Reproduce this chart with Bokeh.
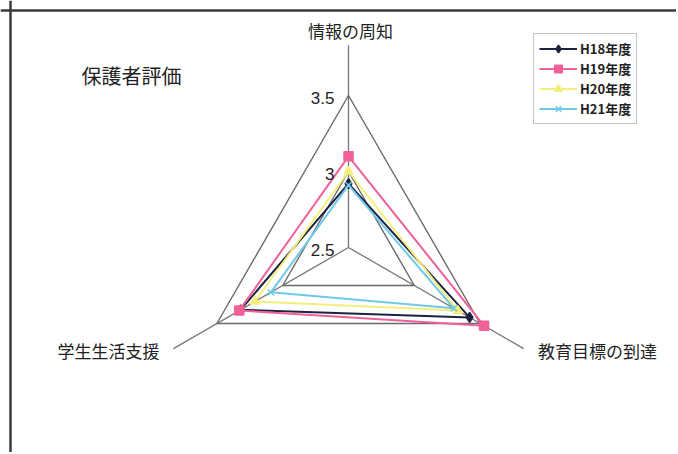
import numpy as np
from bokeh.plotting import figure
from bokeh.models import Range1d, Span, Legend, LegendItem
from bokeh.core.properties import value
from bokeh.embed import file_html
from bokeh.resources import INLINE

# ---------------- data ----------------
title_text = "保護者評価"
categories = ["情報の周知", "教育目標の到達", "学生生活支援"]
series_names = ["H18年度", "H19年度", "H20年度", "H21年度"]
h18 = [2.92, 3.42, 3.32]
h19 = [3.10, 3.53, 3.33]
h20 = [3.00, 3.33, 3.21]
h21 = [2.91, 3.30, 3.09]
grid_levels = [3.0, 3.5]
tick_values = [2.5, 3.0, 3.5]
tick_labels = ["2.5", "3", "3.5"]
r_min = 2.5

# ---------------- layout ----------------
W, H = 676, 452
OFF = 0
PX = 152.0             # pixels per value unit
CX, CY = 348.0, 247.0  # centre in figure pixels
angles = np.deg2rad([90.0, -30.0, 210.0])
spoke_end = 1.33

def px2d(xp, yp):
    """page pixel -> data coords (for text placement)"""
    return (xp - OFF - CX) / PX, (CY - (yp - OFF)) / PX

def polar(vals):
    r = np.array(vals) - r_min
    return list(r * np.cos(angles)), list(r * np.sin(angles))

p = figure(width=W, height=H, output_backend="svg", toolbar_location=None,
           x_range=Range1d(-CX / PX, (W - CX) / PX),
           y_range=Range1d(-(H - CY) / PX, CY / PX),
           x_axis_location=None, y_axis_location=None,
           min_border=0, min_border_left=0, min_border_right=0,
           min_border_top=0, min_border_bottom=0)
p.grid.visible = False
p.outline_line_color = None
p.background_fill_color = "white"
p.border_fill_color = "white"

# frame of the scanned page
fx, fy = px2d(10, 10)
p.add_layout(Span(location=fy, dimension="width", line_color="#3a3a3a", line_width=2.5))
p.add_layout(Span(location=fx, dimension="height", line_color="#3a3a3a", line_width=2.5))

# spokes
for a in angles:
    p.line([0, spoke_end * np.cos(a)], [0, spoke_end * np.sin(a)],
           line_color="#777777", line_width=1.3)

# grid triangles
for g in grid_levels:
    gx, gy = polar([g, g, g])
    p.line(gx + [gx[0]], gy + [gy[0]], line_color="#6a6a6a", line_width=1.4)

# series
styles = [
    dict(color="#1c2340", marker="diamond", size=10),
    dict(color="#f0609a", marker="square", size=9),
    dict(color="#f3ef7c", marker="triangle", size=9),
    dict(color="#70c8ea", marker="x", size=9),
]
items = []
for name, vals, st in zip(series_names, [h18, h19, h20, h21], styles):
    sx, sy = polar(vals)
    ln = p.line(sx + [sx[0]], sy + [sy[0]], line_color=st["color"], line_width=2)
    sc = p.scatter(sx, sy, marker=st["marker"], size=st["size"],
                   fill_color=st["color"], line_color=st["color"], line_width=1.5)
    items.append(LegendItem(label=name, renderers=[ln, sc]))

legend = Legend(items=items, location=(533, H - 37 - 87),
                border_line_color="#8a8a8a", border_line_width=1.5,
                background_fill_color="white", background_fill_alpha=1,
                label_text_font="Noto Sans CJK JP", label_text_font_size="13px",
                label_text_font_style="bold", label_text_color="#222222",
                glyph_width=38, glyph_height=19, label_height=19,
                spacing=1, padding=5, margin=0, label_standoff=3)
p.add_layout(legend)

# tick labels on the top spoke
tx = [-14 / PX] * len(tick_values)
ty = [v - r_min - 2 / PX for v in tick_values]
p.text(tx, ty, text=tick_labels, text_font=value("Liberation Sans"),
       text_font_size=value("17px"), text_align="right", text_baseline="middle",
       text_color="#222222")

# category labels
lab_pos = [px2d(350, 30), px2d(597, 350), px2d(108, 350)]
p.text([q[0] for q in lab_pos], [q[1] for q in lab_pos], text=categories,
       text_font=value("Noto Sans CJK JP"), text_font_size=value("17px"),
       text_align="center", text_baseline="middle", text_color="#222222")

# title
t0 = px2d(81, 75)
p.text([t0[0]], [t0[1]], text=[title_text], text_font=value("Noto Sans CJK JP"),
       text_font_size=value("20px"), text_align="left", text_baseline="middle",
       text_color="#222222")

open("out.html", "w").write(file_html(p, INLINE))
